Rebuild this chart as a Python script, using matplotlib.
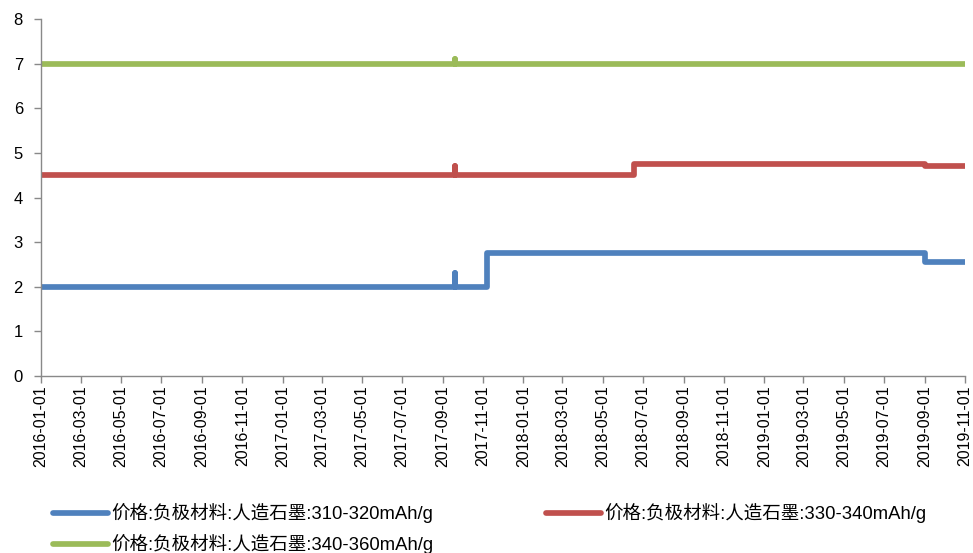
import matplotlib
matplotlib.use("Agg")
import matplotlib.pyplot as plt
import matplotlib.dates as mdates
import numpy as np

plt.rcParams['font.family'] = ['Liberation Sans', 'Noto Sans CJK SC', 'DejaVu Sans']

# Price change points (steps-post): date, value
dates_310 = ["2016-01-01", "2017-09-19", "2017-09-20", "2017-11-07", "2019-09-02", "2019-11-01"]
vals_310 = [2.0, 2.3, 2.0, 2.75, 2.55, 2.55]

dates_330 = ["2016-01-01", "2017-09-19", "2017-09-20", "2018-06-18", "2019-09-02", "2019-11-01"]
vals_330 = [4.5, 4.7, 4.5, 4.75, 4.7, 4.7]

dates_340 = ["2016-01-01", "2017-09-19", "2017-09-20", "2019-11-01"]
vals_340 = [7.0, 7.1, 7.0, 7.0]

labels = ["价格:负极材料:人造石墨:310-320mAh/g",
          "价格:负极材料:人造石墨:330-340mAh/g",
          "价格:负极材料:人造石墨:340-360mAh/g"]
colors = ["#4F81BD", "#C0504D", "#9BBB59"]
yticks = [0, 1, 2, 3, 4, 5, 6, 7, 8]
x_start, x_end = "2016-01-01", "2019-11-01"

fig = plt.figure(figsize=(9.73, 5.53), dpi=100)
ax = fig.add_axes([41 / 973, 1 - 376 / 553, 924 / 973, 357 / 553])

series = [(dates_310, vals_310), (dates_330, vals_330), (dates_340, vals_340)]
handles = []
for (d, v), lab, c in zip(series, labels, colors):
    h, = ax.plot(np.array(d, dtype="datetime64[D]"), v, drawstyle="steps-post",
                 color=c, lw=4.1, label=lab, solid_capstyle="round",
                 solid_joinstyle="round")
    handles.append(h)

ax.set_xlim(np.datetime64(x_start), np.datetime64(x_end))
ax.set_ylim(0, 8)
ax.set_yticks(yticks)
ax.xaxis.set_major_locator(mdates.MonthLocator(bymonth=[1, 3, 5, 7, 9, 11]))
ax.xaxis.set_major_formatter(mdates.DateFormatter("%Y-%m-%d"))
for lbl in ax.get_xticklabels():
    lbl.set_rotation(90)

for s in ["top", "right"]:
    ax.spines[s].set_visible(False)
for s in ["left", "bottom"]:
    ax.spines[s].set_color("#898989")
    ax.spines[s].set_linewidth(1.0)
ax.tick_params(axis="both", colors="#898989", labelcolor="black", length=5, width=1)
ax.tick_params(axis="x", labelsize=11.5, pad=2)
ax.tick_params(axis="y", labelsize=12, pad=8)

# legend filled column-wise: blue, green | red
order = [0, 2, 1]
fig.legend(handles=[handles[i] for i in order], labels=[labels[i] for i in order],
           ncol=2, loc="upper left",
           bbox_to_anchor=(53 / 973, 1 - 503 / 553), frameon=False,
           fontsize=13.3, handlelength=3.0, handletextpad=0.15,
           columnspacing=6.1, labelspacing=0.6, borderaxespad=0, borderpad=0)

fig.savefig("out.png", dpi=100)
